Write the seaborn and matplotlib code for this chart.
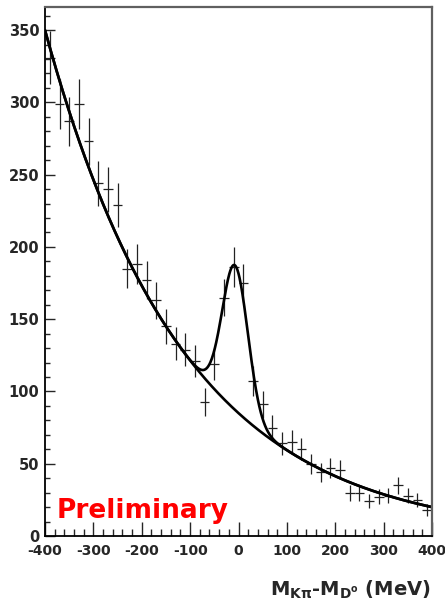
import numpy as np
import pandas as pd
import seaborn as sns
import matplotlib
matplotlib.use("Agg")
import matplotlib.pyplot as plt
from matplotlib.ticker import MultipleLocator

# histogram: 20 MeV bins from -400 to 400
bin_centers = [-390, -370, -350, -330, -310, -290, -270, -250, -230, -210,
               -190, -170, -150, -130, -110, -90, -70, -50, -30, -10,
               10, 30, 50, 70, 90, 110, 130, 150, 170, 190,
               210, 230, 250, 270, 290, 310, 330, 350, 370, 390]
counts = [331, 299, 287, 299, 273, 244, 240, 229, 185, 188,
          177, 163, 145, 133, 129, 121, 93, 119, 165, 186,
          175, 107, 91, 75, 64, 65, 60, 50, 44, 47,
          46, 30, 30, 24, 27, 28, 35, 28, 25, 18]

# fit parameters (background exp-poly + gaussian peak)
bkg_at_min = 350.0
bkg_slope = -0.0034975
bkg_curv = -1.0e-7
peak_amp = 100.0
peak_mean = -7.0
peak_sigma = 26.5

sns.set_style("ticks")
plt.rcParams['font.family'] = ['DejaVu Sans']
plt.rcParams['axes.unicode_minus'] = False
plt.rcParams['mathtext.default'] = 'bf'

df = pd.DataFrame({'x': bin_centers, 'n': counts})
df['err'] = np.sqrt(df['n'])

xs = np.linspace(-400, 400, 801)
u = xs + 400
bkg = bkg_at_min * np.exp(bkg_slope * u + bkg_curv * u ** 2)
total = bkg + peak_amp * np.exp(-0.5 * ((xs - peak_mean) / peak_sigma) ** 2)
curves = pd.DataFrame({'x': xs, 'bkg': bkg, 'total': total})

fig = plt.figure(figsize=(4.45, 6.04), dpi=100)
ax = fig.add_axes([45 / 445, 68 / 604, 387 / 445, 529 / 604])

ax.errorbar(df['x'], df['n'], xerr=10, yerr=df['err'], fmt='none',
            ecolor='#222222', elinewidth=0.9, capsize=0)
sns.lineplot(data=curves, x='x', y='bkg', ax=ax, color='black', lw=1.9)
sns.lineplot(data=curves, x='x', y='total', ax=ax, color='black', lw=1.9)

ax.set_xlim(-400, 400)
ax.set_ylim(0, 366)
ax.xaxis.set_major_locator(MultipleLocator(100))
ax.xaxis.set_minor_locator(MultipleLocator(20))
ax.yaxis.set_major_locator(MultipleLocator(50))
ax.yaxis.set_minor_locator(MultipleLocator(10))
ax.tick_params(axis='x', which='major', direction='in', length=10, width=1,
               labelsize=10, pad=6)
ax.tick_params(axis='x', which='minor', direction='in', length=5, width=1)
ax.tick_params(axis='y', which='major', direction='in', length=7, width=1,
               labelsize=10.5, pad=4)
ax.tick_params(axis='y', which='minor', direction='in', length=3.5, width=1)
for lab in ax.get_xticklabels() + ax.get_yticklabels():
    lab.set_fontweight('bold')

for side in ['left', 'bottom']:
    ax.spines[side].set_color('black')
    ax.spines[side].set_linewidth(1.3)
for side in ['top', 'right']:
    ax.spines[side].set_color('#606060')
    ax.spines[side].set_linewidth(1.6)

ax.set_xlabel('')
ax.set_ylabel('')
fig.text(431 / 445, 1 - 596 / 604, r'M$_{K\pi}$-M$_{D^o}$ (MeV)',
         ha='right', va='baseline', fontsize=14, fontweight='bold')

ax.text(-375, 12.5, 'Preliminary', color='#ff0000', fontsize=19,
        fontweight='bold', ha='left', va='baseline')

fig.savefig('out.png', dpi=100)
